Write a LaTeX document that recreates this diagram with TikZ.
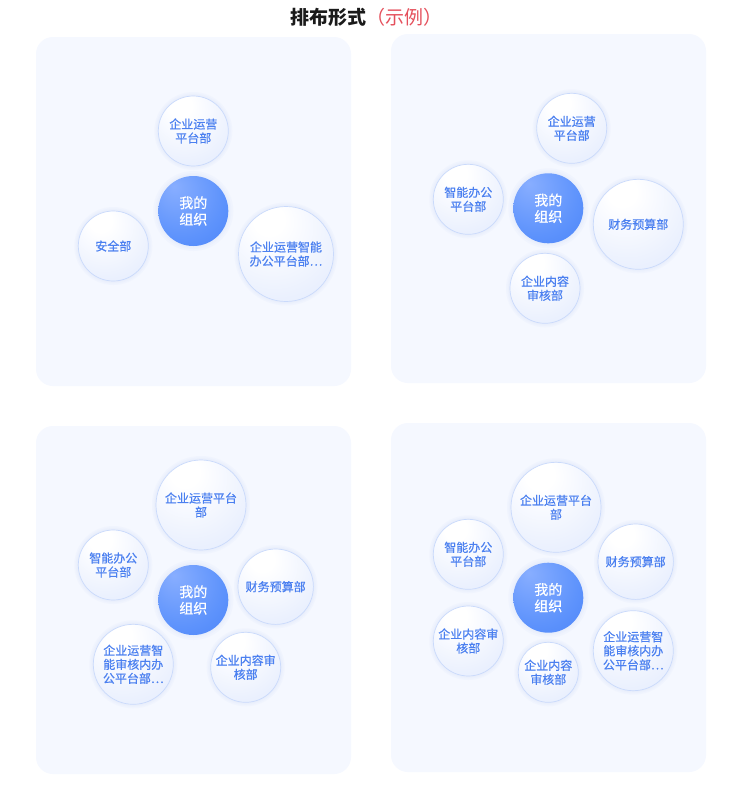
\documentclass[tikz,border=0pt]{standalone}
\usepackage{fontspec}
\setmainfont{Noto Sans CJK SC}
\newfontfamily\deptfont{Noto Sans CJK SC}[FakeBold=0.6]
\definecolor{panelbg}{HTML}{F5F8FF}
\definecolor{deptc}{HTML}{4B80F0}
\definecolor{ringc}{HTML}{CADAFB}
\definecolor{glowc}{HTML}{C4D5FA}
\definecolor{deptlight}{HTML}{D8E3FD}
\definecolor{deptmid}{HTML}{EAF0FE}
\definecolor{coretop}{HTML}{88AEFF}
\definecolor{coremid}{HTML}{5E93FC}
\definecolor{corebot}{HTML}{3B78F6}
\definecolor{titlered}{HTML}{E5505C}
\definecolor{titleblack}{HTML}{1A1A1A}
\pgfdeclareradialshading{deptshade}{\pgfpoint{-10bp}{20bp}}{color(0bp)=(white); color(8bp)=(white); color(35bp)=(deptmid); color(62bp)=(deptlight); color(80bp)=(deptlight)}
\pgfdeclareradialshading{coreshade}{\pgfpoint{-14bp}{18bp}}{color(0bp)=(coretop); color(30bp)=(coremid); color(62bp)=(corebot); color(80bp)=(corebot)}
\tikzset{
  panel/.style={fill=panelbg, rounded corners=17pt},
  deptnode/.style={circle, draw=ringc, line width=0.7pt, shading=deptshade, text=deptc, inner sep=0pt, align=center, font=\deptfont\fontsize{12}{14}\selectfont},
  corenode/.style={circle, shading=coreshade, text=white, inner sep=0pt, align=center, minimum size=70pt, font=\deptfont\fontsize{14}{16.5}\selectfont},
  glow/.style={fill=glowc, opacity=0.09},
}
\newcommand\deptball[5]{%
  \foreach \g in {4,2.5,1.2}{\fill[glow] (#2,#3) circle[radius=#4pt+\g pt];}
  \node[deptnode, minimum size=2*#4pt] (#1) at (#2,#3) {#5};}
\newcommand\coreball[3]{%
  \foreach \g in {5,3,1.5}{\fill[glow] (#2,#3) circle[radius=35pt+\g pt];}
  \node[corenode] (#1) at (#2,#3) {我的\\组织};}
\begin{document}
\begin{tikzpicture}[x=1pt,y=-1pt]
\useasboundingbox (0,0) rectangle (742,809);
\fill[white] (0,0) rectangle (742,809);
\node[font=\fontsize{19}{22}\selectfont, text=titleblack] (title) at (366,17) {\bfseries 排布形式\textcolor{titlered}{\mdseries （示例）}};
% panels
\fill[panel] (36,37) rectangle (351,386);
\fill[panel] (391,34) rectangle (706,383);
\fill[panel] (36,426) rectangle (351,774);
\fill[panel] (391,423) rectangle (706,772);
% panel 1
\deptball{a1}{193.3}{131}{35}{企业运营\\平台部}
\deptball{a2}{113.3}{246}{35}{安全部}
\deptball{a3}{286}{254}{47.5}{企业运营智能\\办公平台部…}
\coreball{a0}{193.3}{211}
% panel 2
\deptball{b1}{571.7}{128.3}{35}{企业运营\\平台部}
\deptball{b2}{468.3}{199.3}{35}{智能办公\\平台部}
\deptball{b3}{638.3}{224.3}{45}{财务预算部}
\deptball{b4}{545}{288.3}{35}{企业内容\\审核部}
\coreball{b0}{548.3}{208.3}
% panel 3
\deptball{c1}{201}{505}{45}{企业运营平台\\部}
\deptball{c2}{113.3}{565}{35}{智能办公\\平台部}
\deptball{c3}{275.7}{586.7}{37.7}{财务预算部}
\deptball{c4}{133.3}{664.3}{40}{企业运营智\\能审核内办\\公平台部…}
\deptball{c5}{245.7}{667.3}{35}{企业内容审\\核部}
\coreball{c0}{193.3}{600}
% panel 4
\deptball{d1}{556}{507.3}{45}{企业运营平台\\部}
\deptball{d2}{468.3}{554.3}{35}{智能办公\\平台部}
\deptball{d3}{635.7}{561.7}{37.7}{财务预算部}
\deptball{d4}{468.3}{641}{35}{企业内容审\\核部}
\deptball{d5}{548.3}{672.3}{30}{企业内容\\审核部}
\deptball{d6}{633.3}{650.7}{40}{企业运营智\\能审核内办\\公平台部…}
\coreball{d0}{548.3}{597.7}
\end{tikzpicture}
\end{document}
